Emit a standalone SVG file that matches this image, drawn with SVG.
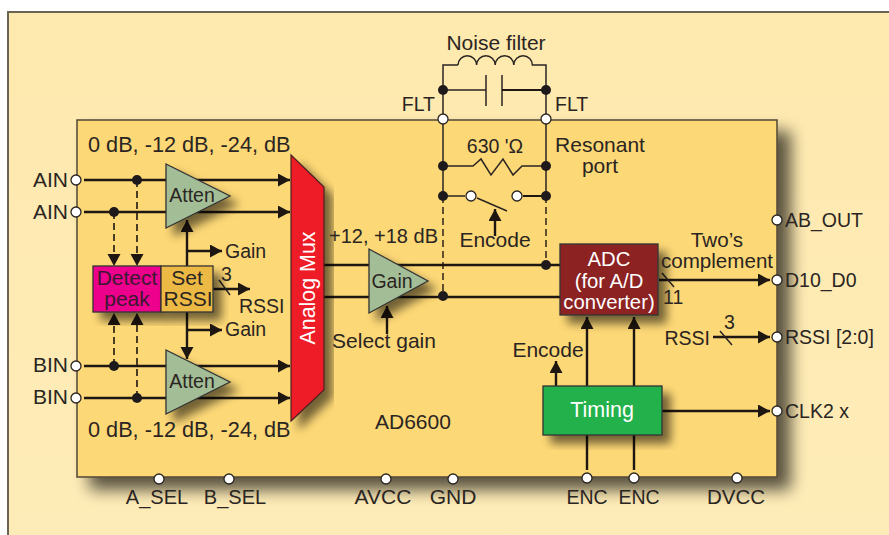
<svg xmlns="http://www.w3.org/2000/svg" width="889" height="535" viewBox="0 0 889 535">
<defs>
<linearGradient id="bg" x1="0" y1="0" x2="0" y2="1"><stop offset="0" stop-color="#FEE9AE"/><stop offset="1" stop-color="#FEECB8"/></linearGradient>
<filter id="sh" x="-20%" y="-20%" width="150%" height="150%"><feGaussianBlur in="SourceAlpha" stdDeviation="5"/><feOffset dx="8" dy="8"/><feComponentTransfer><feFuncA type="linear" slope="0.55"/></feComponentTransfer><feMerge><feMergeNode/><feMergeNode in="SourceGraphic"/></feMerge></filter>
<filter id="big" x="-5%" y="-5%" width="115%" height="115%"><feGaussianBlur in="SourceAlpha" stdDeviation="8"/><feOffset dx="13" dy="12"/><feComponentTransfer><feFuncA type="linear" slope="0.65"/></feComponentTransfer><feMerge><feMergeNode/><feMergeNode in="SourceGraphic"/></feMerge></filter>
<marker id="ah" markerUnits="userSpaceOnUse" markerWidth="13" markerHeight="14" refX="12" refY="6.5" orient="auto"><path d="M0,0L12,6.5L0,13Z" fill="#1e1610"/></marker>
</defs>
<style>
text{font-family:"Liberation Sans",Arial,sans-serif;font-size:19.5px;fill:#2a2522}
.b{font-size:21px}
.w{fill:#fff}
.m{text-anchor:middle}
.e{text-anchor:end}
.l{fill:none;stroke:#1e1610;stroke-width:2.4}
.t{fill:none;stroke:#2a2522;stroke-width:1.5}
.d{fill:none;stroke:#1e1610;stroke-width:1.6;stroke-dasharray:7 4}
.amp{fill:#A3BE96;stroke:#333;stroke-width:1.3;filter:url(#sh)}
.dot{fill:#1e1a1c}
.pin{fill:#fff;stroke:#2a2522;stroke-width:1.3}
</style>
<rect x="8" y="12" width="890" height="540" fill="url(#bg)" stroke="#6b6455" stroke-width="2"/>
<g id="chip"><rect x="77" y="120" width="700" height="357" fill="#FDD876" stroke="#4f4735" stroke-width="1.5" filter="url(#big)"/><text class="b" x="375" y="429">AD6600</text></g>
<g id="connectors">
<path class="l" d="M84,180H290" marker-end="url(#ah)"/>
<path class="l" d="M84,212H290" marker-end="url(#ah)"/>
<path class="l" d="M84,366H290" marker-end="url(#ah)"/>
<path class="l" d="M84,398H290" marker-end="url(#ah)"/>
<path class="d" d="M137,180V266" marker-end="url(#ah)"/>
<path class="d" d="M114,212V266" marker-end="url(#ah)"/>
<path class="d" d="M114,366V313" marker-end="url(#ah)"/>
<path class="d" d="M137,398V313" marker-end="url(#ah)"/>
<path class="l" d="M187,266V220" marker-end="url(#ah)"/>
<path class="l" d="M187,312V359" marker-end="url(#ah)"/>
<path class="l" d="M187,251H222" marker-end="url(#ah)"/>
<path class="l" d="M187,330H222" marker-end="url(#ah)"/>
<path class="l" d="M213,289H250" marker-end="url(#ah)"/>
<path class="t" d="M219,280L230,295"/>
<path class="l" d="M324,265H560M324,297H560"/>
<path class="l" d="M387,334V306" marker-end="url(#ah)"/>
<path class="t" d="M443,90V65H458M458,65a9.3,9.3 0 0 1 18.6,0a9.3,9.3 0 0 1 18.6,0a9.3,9.3 0 0 1 18.6,0a9.3,9.3 0 0 1 18.6,0H546V90"/>
<path class="t" d="M443,90V196M546,90V196M443,90H486"/>
<path class="t" d="M486,75V106M502,75V106"/>
<path class="l" style="stroke-width:2" d="M502,90H546"/>
<path class="t" d="M443,166H473L481,159L491,175L503,159L513,175L522,166H546"/>
<path class="t" d="M443,196H465M477,198L507,211"/>
<path class="l" style="stroke-width:2" d="M523,196H546"/>
<path class="l" d="M495,236V209" marker-end="url(#ah)"/>
<path class="d" style="stroke-width:1.4" d="M443,196V296M546,196V265"/>
<path class="l" d="M659,280H770" marker-end="url(#ah)"/>
<path class="t" d="M662,273L674,287"/>
<path class="l" d="M713,337H770" marker-end="url(#ah)"/>
<path class="t" d="M720,331L732,345"/>
<path class="l" d="M662,411H770" marker-end="url(#ah)"/>
<path class="l" d="M587,386V317" marker-end="url(#ah)"/>
<path class="l" d="M634,386V317" marker-end="url(#ah)"/>
<path class="l" d="M556,386V361" marker-end="url(#ah)"/>
<path class="l" d="M587,435V470M634,435V470"/>
</g>
<g id="atten-a"><polygon class="amp" points="166,164 166,228 230,196"/><text class="m" x="192" y="202">Atten</text></g>
<g id="atten-b"><polygon class="amp" points="166,350 166,414 230,382"/><text class="m" x="192" y="388">Atten</text></g>
<g id="gain"><polygon class="amp" points="369,249 369,313 428,281"/><text class="m" x="392" y="288">Gain</text></g>
<g id="detect-peak"><rect x="93" y="266" width="68" height="46" fill="#EC008C" stroke="#333" stroke-width="1.3" filter="url(#sh)"/><text class="m b" x="127" y="285" style="fill:#3a1a30">Detect</text><text class="m b" x="127" y="306" style="fill:#3a1a30">peak</text></g>
<g id="set-rssi"><rect x="161" y="266" width="52" height="46" fill="#EDB945" stroke="#333" stroke-width="1.3" filter="url(#sh)"/><text class="m b" x="187" y="285">Set</text><text class="m b" x="188" y="306">RSSI</text></g>
<g id="analog-mux"><polygon points="291,155 324,187 324,390 291,421" fill="#EE1C25" stroke="#4a2020" stroke-width="1.2" filter="url(#sh)"/><text class="w m" style="font-size:21.4px" transform="translate(315,288) rotate(-90)">Analog Mux</text></g>
<g id="adc"><rect x="560" y="244" width="98" height="71" fill="#8C2323" stroke="#333" stroke-width="1.3" filter="url(#sh)"/><text class="w m" style="font-size:20.3px" x="609" y="266">ADC</text><text class="w m" style="font-size:20.3px" x="609" y="288">(for A/D</text><text class="w m" style="font-size:20.3px" x="609" y="309">converter)</text></g>
<g id="timing"><rect x="543" y="386" width="119" height="49" fill="#22B14C" stroke="#333" stroke-width="1.3" filter="url(#sh)"/><text class="w m b" style="font-size:21.5px" x="602" y="417">Timing</text></g>
<g id="junctions">
<circle class="dot" cx="137" cy="180" r="5"/><circle class="dot" cx="114" cy="212" r="5"/><circle class="dot" cx="114" cy="366" r="5"/><circle class="dot" cx="137" cy="398" r="5"/>
<circle class="dot" cx="443" cy="90" r="5"/><circle class="dot" cx="546" cy="90" r="5"/><circle class="dot" cx="443" cy="166" r="5"/><circle class="dot" cx="546" cy="166" r="5"/><circle class="dot" cx="443" cy="196" r="5"/><circle class="dot" cx="546" cy="196" r="5"/><circle class="dot" cx="443" cy="296" r="5"/><circle class="dot" cx="546" cy="265" r="5"/>
<circle class="pin" cx="471" cy="196" r="5"/><circle class="pin" cx="517" cy="196" r="5"/>
</g>
<g id="pins">
<circle class="pin" cx="76" cy="180" r="5"/><circle class="pin" cx="76" cy="212" r="5"/><circle class="pin" cx="76" cy="366" r="5"/><circle class="pin" cx="76" cy="398" r="5"/>
<circle class="pin" cx="443" cy="119" r="5"/><circle class="pin" cx="546" cy="119" r="5"/>
<circle class="pin" cx="777" cy="220" r="5"/><circle class="pin" cx="777" cy="280" r="5"/><circle class="pin" cx="777" cy="337" r="5"/><circle class="pin" cx="777" cy="411" r="5"/>
<circle class="pin" cx="159" cy="479" r="5"/><circle class="pin" cx="229" cy="479" r="5"/><circle class="pin" cx="386" cy="479" r="5"/><circle class="pin" cx="453" cy="479" r="5"/><circle class="pin" cx="587" cy="478" r="5"/><circle class="pin" cx="634" cy="478" r="5"/><circle class="pin" cx="737" cy="478" r="5"/>
</g>
<g id="labels">
<text x="88" y="152" style="font-size:21.7px">0 dB, -12 dB, -24, dB</text>
<text x="88" y="437" style="font-size:21.7px">0 dB, -12 dB, -24, dB</text>
<text class="e b" x="68" y="187">AIN</text><text class="e b" x="68" y="219">AIN</text><text class="e b" x="68" y="372">BIN</text><text class="e b" x="68" y="404">BIN</text>
<text x="225" y="258">Gain</text><text x="225" y="336">Gain</text>
<text x="221" y="281">3</text><text x="239" y="313">RSSI</text>
<text class="m b" x="496" y="50">Noise filter</text>
<text class="e" x="435" y="111">FLT</text><text x="555" y="111">FLT</text>
<text class="m" x="495" y="153">630 'Ω</text>
<text class="m b" x="600" y="152">Resonant</text><text class="m b" x="600" y="173">port</text>
<text class="m b" x="495" y="247">Encode</text>
<text x="329" y="243" style="font-size:20px">+12, +18 dB</text>
<text class="m b" x="384" y="348">Select gain</text>
<text class="m b" x="548" y="357">Encode</text>
<text class="m" style="font-size:20.6px" x="717" y="247">Two’s</text><text class="m" style="font-size:20.6px" x="717" y="268">complement</text>
<text x="663" y="304">11</text>
<text x="785" y="227">AB_OUT</text><text x="785" y="287">D10_D0</text><text x="785" y="344">RSSI [2:0]</text><text x="785" y="418">CLK2 x</text>
<text class="e" x="710" y="345">RSSI</text><text x="724" y="329">3</text>
<text class="m" style="font-size:20px" x="157" y="504">A_SEL</text><text class="m" style="font-size:20px" x="235" y="504">B_SEL</text><text class="m b" x="383" y="504">AVCC</text><text class="m b" x="453" y="504">GND</text><text class="m" x="587" y="504">ENC</text><text class="m" x="639" y="504">ENC</text><text class="m" style="font-size:20.5px" x="736" y="504">DVCC</text>
</g>
</svg>
